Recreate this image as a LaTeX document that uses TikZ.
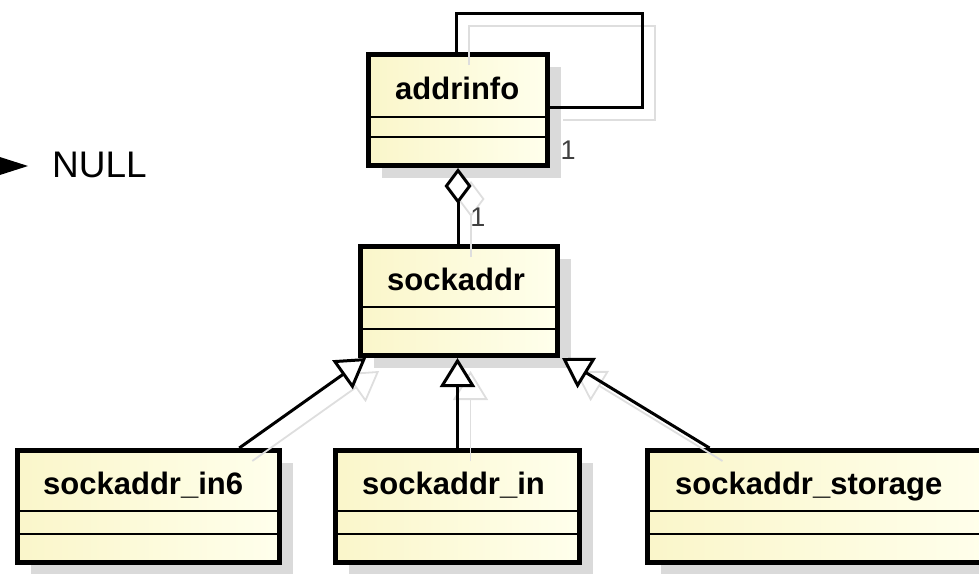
\documentclass[tikz,border=0pt]{standalone}
\usepackage{fontspec}
\setmainfont{Liberation Sans}
\usetikzlibrary{arrows.meta,calc,shadows}

\definecolor{classleft}{RGB}{250,246,202}
\definecolor{classright}{RGB}{255,255,236}
\definecolor{boxshade}{RGB}{218,218,218}
\definecolor{linkshade}{RGB}{222,222,222}

% All connectors of the class diagram; #1 = line style, #2 = fill of the open tips
\newcommand\umllinks[2]{%
  % self association of addrinfo
  \draw[#1] (addrinfo.north -| loopA) -- (loopA) -| (loopB) -- (loopB -| addrinfo.east);
  % aggregation addrinfo <>-- sockaddr
  \draw[#1, -{Diamond[open, fill=#2, length=36pt, width=27pt]}]
    (sockaddr.north -| addrinfo.south) -- (addrinfo.south);
  % generalisations towards sockaddr
  \draw[#1, -{Triangle[open, fill=#2, length=29pt, width=35pt]}]
    ($(in6.north west)!0.84!(in6.north east)$) -- ($(sockaddr.south west)!0.04!(sockaddr.south east)$);
  \draw[#1, -{Triangle[open, fill=#2, length=29pt, width=35pt]}]
    (in.north) -- (in.north |- sockaddr.south);
  \draw[#1, -{Triangle[open, fill=#2, length=29pt, width=35pt]}]
    ($(storage.north west)+(64.5,0)$) -- ($(sockaddr.south west)!1.01!(sockaddr.south east)$);
}

\begin{document}
\begin{tikzpicture}[x=1pt, y=-1pt,
  classbox/.style={draw=black, line width=5pt, left color=classleft, right color=classright,
    inner sep=0pt,
    drop shadow={shadow xshift=13pt, shadow yshift=-12pt, fill=boxshade, opacity=1}},
  divider/.style={draw=black, line width=2pt},
  classname/.style={anchor=base west, inner sep=0pt, font=\fontsize{31}{36}\selectfont\bfseries},
  mult/.style={inner sep=0pt, text=black!75, font=\fontsize{27}{30}\selectfont},
  link/.style={draw=black, line width=3pt},
  linkshadow/.style={draw=linkshade, line width=1.8pt}
]
\useasboundingbox (0,0) rectangle (979,573);

% class boxes
\node[classbox, minimum width=179pt, minimum height=111pt] (addrinfo) at (458,110) {};
\node[classbox, minimum width=197pt, minimum height=109pt] (sockaddr) at (459,301) {};
\node[classbox, minimum width=262pt, minimum height=112pt] (in6) at (148.5,506.5) {};
\node[classbox, minimum width=244pt, minimum height=112pt] (in) at (457.5,506.5) {};
\node[classbox, minimum width=345pt, minimum height=112pt] (storage) at (820,506.5) {};

% compartment separators
\foreach \b/\ya/\yb in {addrinfo/117/137, sockaddr/307/329, in6/511/534, in/511/534, storage/511/534}{
  \draw[divider] (\b.west |- 0,\ya) -- (\b.east |- 0,\ya);
  \draw[divider] (\b.west |- 0,\yb) -- (\b.east |- 0,\yb);
}

% class names
\node[classname] (addrinfo-name) at (395,99) {addrinfo};
\node[classname] (sockaddr-name) at (387,290.5) {sockaddr};
\node[classname] (in6-name) at (43,494) {sockaddr\_in6};
\node[classname] (in-name) at (362,494) {sockaddr\_in};
\node[classname] (storage-name) at (675,494) {sockaddr\_storage};

% corners of the self association
\coordinate (loopA) at (456,13);
\coordinate (loopB) at (642,107);

% faint shadows of the connectors, then the connectors
\begin{scope}[transform canvas={shift={(13pt,-13pt)}}]
  \umllinks{linkshadow}{none}
\end{scope}
\umllinks{link}{white}

% multiplicities
\node[mult] (mult-self) at (568,150) {1};
\node[mult] (mult-agg) at (478,217) {1};

% pointer to NULL
\node[anchor=base west, inner sep=0pt, font=\fontsize{37}{40}\selectfont] (null) at (52,177) {NULL};
\coordinate (nulltip) at (28,166);
\fill[black] (nulltip) -- ++(-36,11.5) -- ++(0,-23) -- cycle;
\end{tikzpicture}
\end{document}
